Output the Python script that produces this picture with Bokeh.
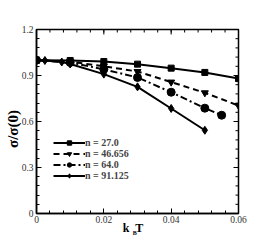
from bokeh.plotting import figure
from bokeh.models import LinearAxis, Legend, LegendItem, Range1d, FixedTicker
from bokeh.embed import file_html
from bokeh.resources import INLINE

# data
x1 = [0.0, 0.01, 0.02, 0.03, 0.04, 0.05, 0.06]
y1 = [1.0, 0.998, 0.991, 0.974, 0.948, 0.920, 0.880]
x2 = [0.0, 0.01, 0.02, 0.03, 0.04, 0.05, 0.06]
y2 = [1.0, 0.99, 0.960, 0.926, 0.857, 0.787, 0.704]
x3 = [0.0, 0.01, 0.02, 0.03, 0.04, 0.05, 0.055]
y3 = [1.0, 0.985, 0.940, 0.887, 0.791, 0.687, 0.641]
x4 = [0.0, 0.0025, 0.0075, 0.01, 0.02, 0.03, 0.04, 0.05]
y4 = [1.0, 0.998, 0.988, 0.975, 0.909, 0.826, 0.685, 0.543]
labels = ["n = 27.0", "n = 46.656", "n = 64.0", "n = 91.125"]
xticks = [0, 0.02, 0.04, 0.06]
yticks = [0, 0.3, 0.6, 0.9, 1.2]
xminor = [0.004 * i for i in range(16)]
yminor = [0.06 * i for i in range(21)]

FONT = "Liberation Serif"

p = figure(frame_width=202, frame_height=184, output_backend="svg",
           toolbar_location=None,
           x_range=Range1d(0, 0.06), y_range=Range1d(0, 1.2),
           min_border_left=36, min_border_right=25, min_border_top=29,
           min_border_bottom=28)
p.grid.visible = False
p.outline_line_color = "black"
p.outline_line_width = 1.5
p.background_fill_color = "white"
p.border_fill_color = "white"


def style(ax, ticks, minor):
    ax.ticker = FixedTicker(ticks=ticks, minor_ticks=minor)
    ax.axis_line_color = "black"
    ax.axis_line_width = 1.5
    ax.major_tick_in = 5
    ax.major_tick_out = 0
    ax.minor_tick_in = 3
    ax.minor_tick_out = 0
    ax.major_label_text_font = FONT
    ax.major_label_text_font_size = "9.5px"
    ax.major_label_text_color = "#333333"
    ax.major_label_standoff = 2
    ax.axis_label_text_font = FONT
    ax.axis_label_text_font_style = "bold"
    ax.axis_label_text_color = "black"


xa = p.xaxis[0]
ya = p.yaxis[0]
style(xa, xticks, xminor)
style(ya, yticks, yminor)
xa.major_label_overrides = {0: "0", 0.02: "0.02", 0.04: "0.04", 0.06: "0.06"}
ya.major_label_overrides = {0: "0", 0.3: "0.3", 0.6: "0.6", 0.9: "0.9", 1.2: "1.2"}
ya.major_label_standoff = 3

xa.axis_label = "k\u00a0\u00a0T\u00a0\u00a0\u00a0"
xa.axis_label_text_font_size = "12px"
xa.axis_label_standoff = -5

ya.axis_label = "σ/σ(0)\u00a0\u00a0\u00a0\u00a0"
ya.axis_label_text_font_size = "15px"
ya.axis_label_standoff = -2

# subscript "B" of k_B T, placed by a tick-less axis below
BPOS = 0.0292
sub = LinearAxis(ticker=FixedTicker(ticks=[BPOS]),
                 major_label_overrides={BPOS: "B"})
sub.axis_line_color = None
sub.major_tick_line_color = None
sub.minor_tick_line_color = None
sub.major_label_text_font = FONT
sub.major_label_text_font_style = "bold"
sub.major_label_text_font_size = "6px"
sub.major_label_text_color = "black"
sub.major_label_standoff = -14
p.add_layout(sub, "below")

# inward ticks on top and right edges
p.scatter(xticks, [1.2] * len(xticks), marker="dash", angle=1.5708, size=10,
          line_color="black", line_width=1)
p.scatter(xminor, [1.2] * len(xminor), marker="dash", angle=1.5708, size=6,
          line_color="black", line_width=1)
p.scatter([0.06] * len(yticks), yticks, marker="dash", size=10,
          line_color="black", line_width=1)
p.scatter([0.06] * len(yminor), yminor, marker="dash", size=6,
          line_color="black", line_width=1)

l1 = p.line(x1, y1, line_color="black", line_width=2)
m1 = p.scatter(x1, y1, marker="square", size=6, color="black")
l2 = p.line(x2, y2, line_color="black", line_width=2, line_dash="6 4")
m2 = p.scatter(x2, y2, marker="inverted_triangle", size=7, color="black")
l3 = p.line(x3, y3, line_color="black", line_width=2, line_dash="7 3 2 3")
m3 = p.scatter(x3, y3, marker="circle", size=8, color="black")
l4 = p.line(x4, y4, line_color="black", line_width=2)
m4 = p.scatter(x4, y4, marker="diamond", size=8, color="black")

legend = Legend(items=[LegendItem(label=labels[0], renderers=[l1, m1]),
                       LegendItem(label=labels[1], renderers=[l2, m2]),
                       LegendItem(label=labels[2], renderers=[l3, m3]),
                       LegendItem(label=labels[3], renderers=[l4, m4])],
                location=(17, 32), padding=0, margin=0, spacing=0,
                glyph_width=32, glyph_height=11, label_height=11,
                label_standoff=0, border_line_color=None,
                background_fill_alpha=0,
                label_text_font=FONT, label_text_font_style="bold",
                label_text_font_size="10px")
p.add_layout(legend)

open("out.html", "w").write(file_html(p, INLINE))
